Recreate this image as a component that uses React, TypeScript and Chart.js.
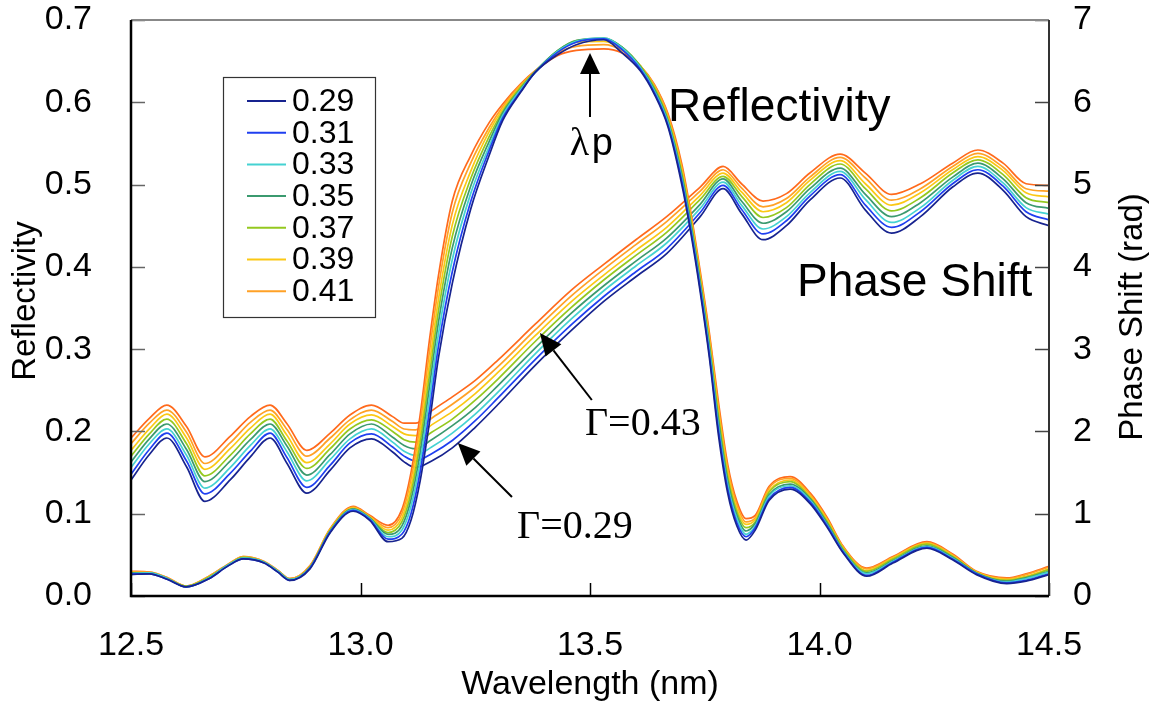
import React, { useEffect, useRef } from "react";
import { Chart, registerables } from "chart.js";

Chart.register(...registerables);

const SANS = '"Liberation Sans", Arial, Helvetica, sans-serif';
const SERIF = '"Liberation Serif", "Times New Roman", serif';

// Γ values of the curve families (0.43 drawn but not listed in the legend)
const GAMMAS = ["0.29", "0.31", "0.33", "0.35", "0.37", "0.39", "0.41", "0.43"];
const COLORS = ["#17238f", "#1f3ff0", "#45d2d2", "#3b9a6f", "#94c81f", "#fbc814", "#ffa126", "#ff6a1c"];
const LEGEND_COUNT = 7;

const X_MIN = 12.5;
const X_MAX = 14.5;
const X_STEP = 0.5;
const R_MIN = 0;
const R_MAX = 0.7;
const R_STEP = 0.1;
const P_MIN = 0;
const P_MAX = 7;
const P_STEP = 1;

// Reflectivity curves (wavelength in nm)
const REFL_X = [12.5, 12.54, 12.58, 12.62, 12.67, 12.71, 12.745, 12.79, 12.82, 12.846, 12.89, 12.934, 12.984, 13.02, 13.06, 13.09, 13.11, 13.13, 13.15, 13.17, 13.2, 13.24, 13.28, 13.31, 13.35, 13.38, 13.43, 13.47, 13.53, 13.57, 13.61, 13.64, 13.67, 13.7, 13.72, 13.74, 13.76, 13.78, 13.8, 13.82, 13.84, 13.86, 13.89, 13.936, 13.98, 14.016, 14.052, 14.103, 14.16, 14.234, 14.29, 14.342, 14.408, 14.45, 14.5];
const REFL_029 = [.026, .027, .020, .011, .021, .036, .045, .040, .029, .019, .033, .077, .103, .092, .066, .070, .092, .140, .210, .290, .380, .470, .535, .578, .613, .636, .658, .670, .676, .660, .638, .610, .570, .500, .440, .370, .290, .195, .125, .085, .068, .080, .116, .130, .112, .084, .052, .024, .040, .058, .044, .026, .015, .018, .026];
const REFL_031 = [.027, .027, .020, .011, .021, .036, .045, .040, .029, .019, .034, .078, .104, .093, .069, .075, .100, .151, .224, .304, .394, .479, .541, .581, .614, .636, .661, .673, .677, .664, .640, .612, .572, .504, .444, .374, .294, .201, .130, .089, .072, .083, .118, .132, .114, .086, .053, .025, .041, .059, .045, .027, .016, .019, .027];
const REFL_033 = [.027, .028, .021, .011, .022, .037, .046, .041, .030, .020, .034, .078, .105, .094, .072, .080, .109, .163, .239, .319, .409, .489, .546, .584, .616, .636, .662, .674, .678, .666, .642, .614, .575, .507, .447, .377, .299, .206, .135, .094, .075, .085, .121, .134, .116, .087, .054, .027, .042, .060, .046, .027, .017, .021, .029];
const REFL_035 = [.028, .028, .021, .011, .022, .037, .046, .041, .030, .020, .035, .079, .106, .095, .075, .085, .117, .174, .253, .333, .423, .498, .552, .587, .617, .637, .663, .675, .678, .667, .643, .616, .577, .511, .451, .381, .303, .212, .140, .098, .079, .088, .123, .136, .118, .089, .055, .028, .043, .061, .047, .028, .018, .022, .030];
const REFL_037 = [.028, .028, .021, .012, .023, .037, .047, .041, .030, .020, .035, .080, .106, .095, .077, .090, .125, .186, .267, .347, .437, .507, .558, .589, .619, .637, .663, .675, .677, .667, .644, .618, .579, .514, .454, .384, .307, .218, .145, .102, .083, .090, .126, .139, .119, .091, .057, .030, .045, .063, .048, .028, .019, .023, .032];
const REFL_039 = [.029, .028, .021, .012, .023, .037, .047, .041, .030, .020, .036, .081, .107, .096, .080, .095, .133, .197, .281, .361, .451, .516, .564, .592, .620, .637, .662, .673, .674, .665, .644, .619, .581, .518, .458, .388, .311, .224, .150, .106, .087, .093, .128, .141, .121, .093, .058, .031, .046, .064, .049, .029, .020, .024, .033];
const REFL_041 = [.029, .029, .022, .012, .024, .038, .048, .042, .031, .021, .036, .081, .108, .097, .083, .100, .142, .209, .296, .376, .466, .526, .569, .595, .622, .638, .660, .668, .670, .663, .644, .621, .584, .521, .461, .391, .316, .229, .155, .111, .090, .095, .131, .143, .123, .094, .059, .033, .047, .065, .050, .029, .021, .026, .035];
const REFL_043 = [.030, .029, .022, .012, .024, .038, .048, .042, .031, .021, .037, .082, .109, .098, .086, .105, .150, .220, .310, .390, .480, .535, .575, .598, .623, .638, .657, .663, .665, .660, .644, .622, .586, .525, .465, .395, .320, .235, .160, .115, .094, .098, .133, .145, .125, .096, .060, .034, .048, .066, .051, .030, .022, .027, .036];

// Phase shift curves (rad)
const PHASE_X = [12.5, 12.54, 12.578, 12.621, 12.661, 12.716, 12.76, 12.803, 12.839, 12.883, 12.934, 12.977, 13.024, 13.07, 13.095, 13.12, 13.155, 13.2, 13.25, 13.3, 13.38, 13.46, 13.53, 13.6, 13.667, 13.74, 13.79, 13.83, 13.877, 13.928, 13.979, 14.045, 14.1, 14.157, 14.22, 14.29, 14.345, 14.4, 14.45, 14.5];
const PHASE_029 = [1.41, 1.72, 1.92, 1.57, 1.15, 1.41, 1.69, 1.92, 1.62, 1.25, 1.53, 1.80, 1.91, 1.75, 1.63, 1.56, 1.64, 1.80, 2.05, 2.33, 2.80, 3.23, 3.58, 3.88, 4.16, 4.61, 4.95, 4.65, 4.33, 4.50, 4.81, 5.08, 4.69, 4.41, 4.61, 4.97, 5.14, 4.93, 4.61, 4.50];
const PHASE_031 = [1.48, 1.78, 1.98, 1.64, 1.24, 1.49, 1.76, 1.98, 1.69, 1.32, 1.59, 1.86, 1.97, 1.81, 1.70, 1.64, 1.73, 1.89, 2.13, 2.41, 2.87, 3.30, 3.64, 3.94, 4.22, 4.66, 4.99, 4.70, 4.40, 4.56, 4.86, 5.12, 4.75, 4.48, 4.67, 5.01, 5.18, 4.98, 4.67, 4.57];
const PHASE_033 = [1.56, 1.85, 2.03, 1.71, 1.31, 1.56, 1.83, 2.03, 1.76, 1.40, 1.66, 1.91, 2.03, 1.87, 1.76, 1.71, 1.81, 1.98, 2.21, 2.48, 2.94, 3.37, 3.71, 4.01, 4.29, 4.71, 5.03, 4.75, 4.46, 4.61, 4.90, 5.16, 4.82, 4.54, 4.72, 5.05, 5.22, 5.02, 4.72, 4.64];
const PHASE_035 = [1.63, 1.91, 2.09, 1.78, 1.39, 1.64, 1.90, 2.09, 1.83, 1.47, 1.72, 1.97, 2.09, 1.93, 1.83, 1.79, 1.90, 2.07, 2.29, 2.56, 3.01, 3.44, 3.77, 4.07, 4.35, 4.76, 5.07, 4.80, 4.53, 4.67, 4.95, 5.20, 4.88, 4.61, 4.78, 5.09, 5.26, 5.07, 4.78, 4.71];
const PHASE_037 = [1.70, 1.97, 2.15, 1.85, 1.46, 1.71, 1.97, 2.15, 1.89, 1.55, 1.79, 2.03, 2.14, 2.00, 1.90, 1.87, 1.99, 2.15, 2.38, 2.64, 3.09, 3.51, 3.84, 4.14, 4.42, 4.82, 5.10, 4.86, 4.60, 4.72, 5.00, 5.25, 4.95, 4.68, 4.84, 5.14, 5.30, 5.12, 4.84, 4.78];
const PHASE_039 = [1.77, 2.03, 2.21, 1.92, 1.54, 1.79, 2.04, 2.21, 1.96, 1.62, 1.85, 2.09, 2.20, 2.06, 1.97, 1.95, 2.08, 2.24, 2.46, 2.72, 3.16, 3.58, 3.90, 4.20, 4.48, 4.87, 5.14, 4.91, 4.67, 4.78, 5.05, 5.29, 5.01, 4.75, 4.90, 5.18, 5.34, 5.17, 4.90, 4.85];
const PHASE_041 = [1.85, 2.10, 2.26, 1.99, 1.61, 1.86, 2.11, 2.26, 2.03, 1.70, 1.92, 2.14, 2.26, 2.12, 2.03, 2.02, 2.16, 2.33, 2.54, 2.79, 3.23, 3.65, 3.97, 4.27, 4.55, 4.92, 5.18, 4.96, 4.73, 4.83, 5.09, 5.33, 5.08, 4.81, 4.95, 5.22, 5.38, 5.21, 4.95, 4.92];
const PHASE_043 = [1.92, 2.16, 2.32, 2.06, 1.69, 1.94, 2.18, 2.32, 2.10, 1.77, 1.98, 2.20, 2.32, 2.18, 2.10, 2.10, 2.25, 2.42, 2.62, 2.87, 3.30, 3.72, 4.03, 4.33, 4.61, 4.97, 5.22, 5.01, 4.80, 4.89, 5.14, 5.37, 5.14, 4.88, 5.01, 5.26, 5.42, 5.26, 5.01, 4.99];

const REFL_SERIES = [REFL_029, REFL_031, REFL_033, REFL_035, REFL_037, REFL_039, REFL_041, REFL_043];
const PHASE_SERIES = [PHASE_029, PHASE_031, PHASE_033, PHASE_035, PHASE_037, PHASE_039, PHASE_041, PHASE_043];

// Annotations, in data units (wavelength, reflectivity)
const NOTE_REFL = { text: "Reflectivity", x: 13.670, y: 0.5773 };
const NOTE_PHASE = { text: "Phase Shift", x: 13.951, y: 0.3646 };
const NOTE_LAMBDA = { x: 13.456, y: 0.536, px: 13.504 };
const ARROW_LAMBDA = { x1: 13.5, y1: 0.582, x2: 13.5, y2: 0.660 };
const NOTE_G43 = { text: "\u0393=0.43", x: 13.489, y: 0.1957 };
const ARROW_G43 = { x1: 13.504, y1: 0.2382, x2: 13.391, y2: 0.3196 };
const NOTE_G29 = { text: "\u0393=0.29", x: 13.341, y: 0.0705 };
const ARROW_G29 = { x1: 13.330, y1: 0.1203, x2: 13.212, y2: 0.1859 };

function drawArrow(ctx: CanvasRenderingContext2D, x1: number, y1: number, x2: number, y2: number, headLen: number, headW: number) {
  const ang = Math.atan2(y2 - y1, x2 - x1);
  const bx = x2 - headLen * Math.cos(ang);
  const by = y2 - headLen * Math.sin(ang);
  ctx.beginPath();
  ctx.moveTo(x1, y1);
  ctx.lineTo(bx, by);
  ctx.stroke();
  ctx.beginPath();
  ctx.moveTo(x2, y2);
  ctx.lineTo(bx + headW * Math.sin(ang), by - headW * Math.cos(ang));
  ctx.lineTo(bx - headW * Math.sin(ang), by + headW * Math.cos(ang));
  ctx.closePath();
  ctx.fill();
}

const framePlugin = {
  id: "frameTicks",
  afterDatasetsDraw(chart: any) {
    const { ctx, chartArea: a, scales } = chart;
    ctx.save();
    const yS = scales.y, y2S = scales.y2, xS = scales.x;
    ctx.lineWidth = 1.5;
    ctx.strokeStyle = "#666";
    yS.ticks.forEach((t: any, i: number) => {
      const p = Math.round(yS.getPixelForTick(i)) + 0.5;
      ctx.beginPath(); ctx.moveTo(a.left, p); ctx.lineTo(a.left + 14, p); ctx.stroke();
    });
    ctx.strokeStyle = "#444";
    y2S.ticks.forEach((t: any, i: number) => {
      const p = Math.round(y2S.getPixelForTick(i)) + 0.5;
      ctx.beginPath(); ctx.moveTo(a.right, p); ctx.lineTo(a.right - 14, p); ctx.stroke();
    });
    ctx.strokeStyle = "#000";
    xS.ticks.forEach((t: any, i: number) => {
      const p = Math.round(xS.getPixelForTick(i)) + 0.5;
      ctx.beginPath(); ctx.moveTo(p, a.bottom); ctx.lineTo(p, a.bottom - 13); ctx.stroke();
    });
    ctx.lineWidth = 2;
    ctx.strokeStyle = "#888";
    ctx.beginPath(); ctx.moveTo(a.left, a.top); ctx.lineTo(a.right, a.top); ctx.stroke();
    ctx.strokeStyle = "#333";
    ctx.beginPath(); ctx.moveTo(a.right, a.top); ctx.lineTo(a.right, a.bottom); ctx.stroke();
    ctx.strokeStyle = "#000";
    ctx.lineWidth = 2.5;
    ctx.beginPath(); ctx.moveTo(a.left, a.top); ctx.lineTo(a.left, a.bottom); ctx.lineTo(a.right, a.bottom); ctx.stroke();
    ctx.restore();
  },
};

const legendPlugin = {
  id: "boxLegend",
  afterDraw(chart: any) {
    const { ctx, chartArea: a } = chart;
    const left = a.left + 92;
    const top = a.top + 57;
    const w = 152;
    const h = 240;
    ctx.save();
    ctx.fillStyle = "#fff";
    ctx.fillRect(left, top, w, h);
    ctx.strokeStyle = "#333";
    ctx.lineWidth = 1.2;
    ctx.strokeRect(left + 0.5, top + 0.5, w, h);
    ctx.font = `32px ${SANS}`;
    ctx.textBaseline = "middle";
    ctx.textAlign = "left";
    for (let i = 0; i < LEGEND_COUNT; i++) {
      const ds = chart.data.datasets[i];
      const yy = top + 24 + i * 31.7;
      ctx.strokeStyle = ds.borderColor;
      ctx.lineWidth = 2;
      ctx.beginPath(); ctx.moveTo(left + 24, yy); ctx.lineTo(left + 63, yy); ctx.stroke();
      ctx.fillStyle = "#000";
      ctx.fillText(ds.label, left + 69, yy + 1);
    }
    ctx.restore();
  },
};

const notesPlugin = {
  id: "notes",
  afterDraw(chart: any) {
    const { ctx, chartArea: a, scales } = chart;
    const X = (v: number) => scales.x.getPixelForValue(v);
    const Y = (v: number) => scales.y.getPixelForValue(v);
    ctx.save();
    ctx.fillStyle = "#000";
    ctx.strokeStyle = "#000";
    ctx.textAlign = "left";
    ctx.textBaseline = "alphabetic";
    ctx.font = `46px ${SANS}`;
    ctx.fillText(NOTE_REFL.text, X(NOTE_REFL.x), Y(NOTE_REFL.y));
    ctx.fillText(NOTE_PHASE.text, X(NOTE_PHASE.x), Y(NOTE_PHASE.y));
    ctx.font = `40px ${SERIF}`;
    ctx.fillText("\u03bb", X(NOTE_LAMBDA.x), Y(NOTE_LAMBDA.y));
    ctx.font = `38px ${SANS}`;
    ctx.fillText("p", X(NOTE_LAMBDA.px), Y(NOTE_LAMBDA.y));
    ctx.font = `40px ${SERIF}`;
    ctx.fillText(NOTE_G43.text, X(NOTE_G43.x), Y(NOTE_G43.y));
    ctx.fillText(NOTE_G29.text, X(NOTE_G29.x), Y(NOTE_G29.y));
    ctx.lineWidth = 2;
    drawArrow(ctx, X(ARROW_LAMBDA.x1), Y(ARROW_LAMBDA.y1), X(ARROW_LAMBDA.x2), Y(ARROW_LAMBDA.y2), 21, 10);
    drawArrow(ctx, X(ARROW_G43.x1), Y(ARROW_G43.y1), X(ARROW_G43.x2), Y(ARROW_G43.y2), 22, 10);
    drawArrow(ctx, X(ARROW_G29.x1), Y(ARROW_G29.y1), X(ARROW_G29.x2), Y(ARROW_G29.y2), 22, 10);

    ctx.textAlign = "center";
    ctx.textBaseline = "middle";
    ctx.font = `33px ${SANS}`;
    ctx.save();
    ctx.translate(a.left - 105, a.top + 281);
    ctx.rotate(-Math.PI / 2);
    ctx.fillText("Reflectivity", 0, 0);
    ctx.restore();
    ctx.save();
    ctx.translate(a.right + 84, a.top + 297);
    ctx.rotate(-Math.PI / 2);
    ctx.fillText("Phase Shift (rad)", 0, 0);
    ctx.restore();
    ctx.font = `34px ${SANS}`;
    ctx.textBaseline = "alphabetic";
    ctx.fillText("Wavelength (nm)", (a.left + a.right) / 2, a.bottom + 98);
    ctx.restore();
  },
};

export default function App() {
  const ref = useRef<HTMLCanvasElement | null>(null);
  useEffect(() => {
    if (!ref.current) return;
    const reflSets = REFL_SERIES.map((vals, i) => ({
      label: GAMMAS[i],
      data: REFL_X.map((x, k) => ({ x, y: vals[k] })),
      borderColor: COLORS[i],
      backgroundColor: COLORS[i],
      borderWidth: 1.7,
      pointRadius: 0,
      cubicInterpolationMode: "monotone" as const,
      yAxisID: "y",
    }));
    const phaseSets = PHASE_SERIES.map((vals, i) => ({
      label: "phase " + GAMMAS[i],
      data: PHASE_X.map((x, k) => ({ x, y: vals[k] })),
      borderColor: COLORS[i],
      backgroundColor: COLORS[i],
      borderWidth: 1.7,
      pointRadius: 0,
      cubicInterpolationMode: "monotone" as const,
      yAxisID: "y2",
    }));
    const tickFont = { family: SANS, size: 34 };
    const fixVertical = (w: number) => (s: any) => {
      s.width = w;
      s.paddingTop = 0;
      s.paddingBottom = 0;
    };
    const chart = new Chart(ref.current, {
      type: "line",
      data: { datasets: [...reflSets, ...phaseSets] as any },
      options: {
        animation: false,
        responsive: false,
        devicePixelRatio: 1,
        layout: { padding: { top: 20, left: 0, right: 0, bottom: 0 } },
        plugins: { legend: { display: false }, tooltip: { enabled: false } },
        scales: {
          x: {
            type: "linear",
            min: X_MIN,
            max: X_MAX,
            grid: { display: false, drawTicks: false },
            border: { display: false },
            ticks: {
              stepSize: X_STEP,
              color: "#000",
              font: tickFont,
              padding: 29,
              maxRotation: 0,
              autoSkip: false,
              callback: (v: any) => Number(v).toFixed(1),
            },
            afterFit: (s: any) => {
              s.height = 106;
              s.paddingLeft = 0;
              s.paddingRight = 0;
            },
          },
          y: {
            position: "left",
            min: R_MIN,
            max: R_MAX,
            grid: { display: false, drawTicks: false },
            border: { display: false },
            ticks: {
              stepSize: R_STEP,
              color: "#000",
              font: tickFont,
              padding: 39,
              callback: (v: any) => Number(v).toFixed(1),
            },
            afterFit: fixVertical(131),
          },
          y2: {
            position: "right",
            min: P_MIN,
            max: P_MAX,
            grid: { display: false, drawTicks: false },
            border: { display: false },
            ticks: {
              stepSize: P_STEP,
              color: "#000",
              font: tickFont,
              padding: 24,
              callback: (v: any) => String(Math.round(Number(v))),
            },
            afterFit: fixVertical(100),
          },
        },
      } as any,
      plugins: [framePlugin, legendPlugin, notesPlugin],
    });
    return () => chart.destroy();
  }, []);
  return (
    <div style={{ position: "fixed", left: 0, top: 0, width: 1149, height: 702, background: "#fff" }}>
      <canvas ref={ref} width={1149} height={702} style={{ display: "block", width: 1149, height: 702 }} />
    </div>
  );
}
